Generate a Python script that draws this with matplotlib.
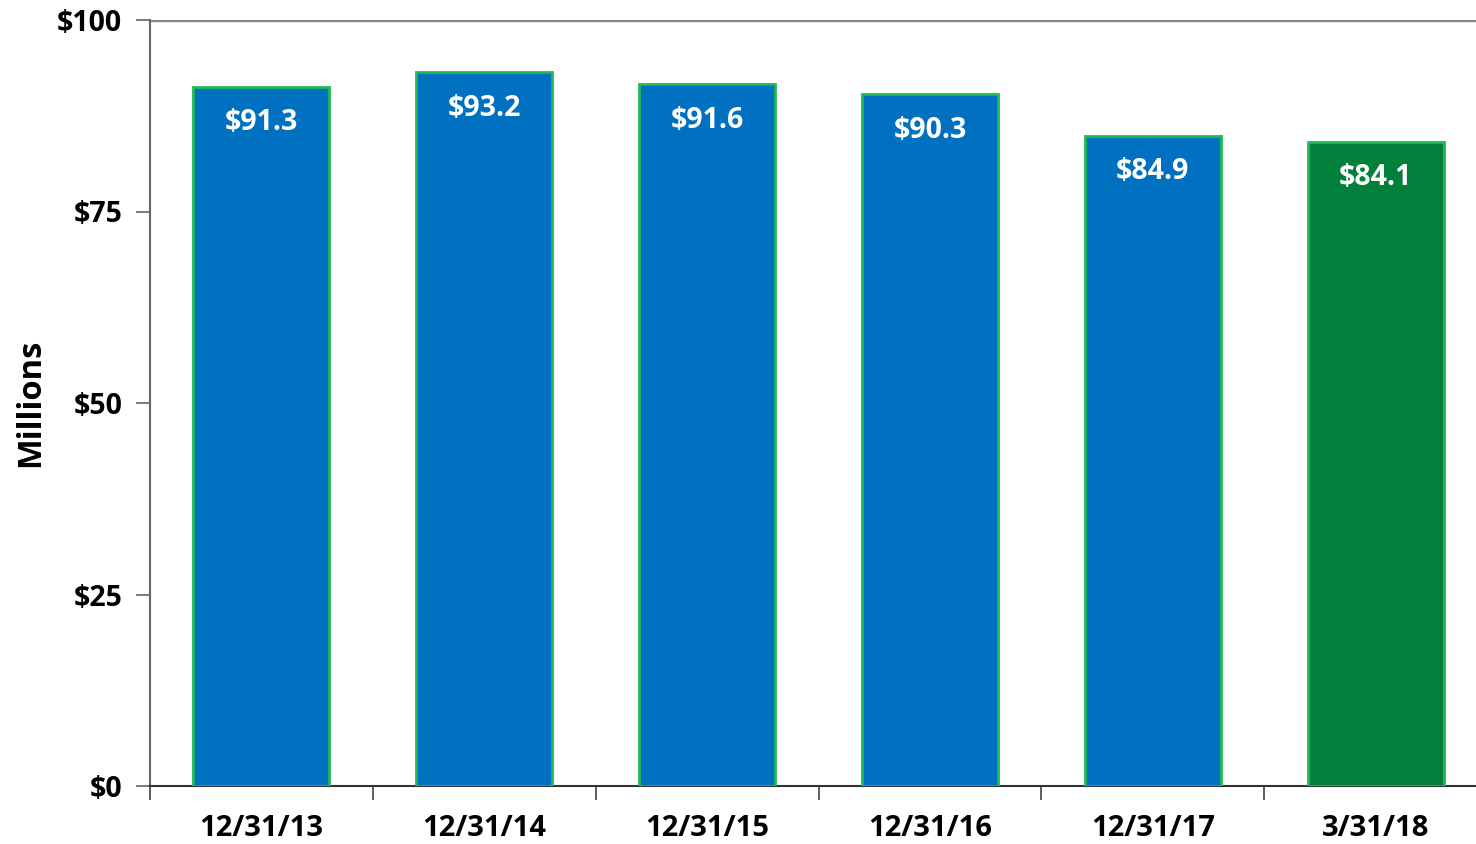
import numpy as np
import matplotlib.pyplot as plt

# data
periods = ['12/31/13', '12/31/14', '12/31/15', '12/31/16', '12/31/17', '3/31/18']
values = [91.3, 93.2, 91.6, 90.3, 84.9, 84.1]
bar_colors = ['#0070C0', '#0070C0', '#0070C0', '#0070C0', '#0070C0', '#00803A']
y_ticks = [0, 25, 50, 75, 100]

plt.rcParams['font.family'] = ['Open Sans', 'DejaVu Sans']

fig = plt.figure(figsize=(14.76, 8.44), dpi=100)
ax = fig.add_axes([150 / 1476, 58 / 844, 1 - 150 / 1476, 766 / 844])

x = np.arange(len(periods))
ax.bar(x, values, width=0.61, color=bar_colors, edgecolor='#1DBA55', linewidth=2, zorder=3)

for xi, v in zip(x, values):
    ax.text(xi, v - 4.7, '$%.1f' % v, ha='center', va='center', color='white',
            fontsize=20.5, fontweight='bold', zorder=4)

ax.set_ylim(0, 100)
ax.set_xlim(-0.5, 5.45)
ax.set_yticks(y_ticks)
ax.set_yticklabels(['$%d' % t for t in y_ticks], fontsize=20.5, fontweight='bold')
# only the top line is drawn across the plot
ax.axhline(y_ticks[-1], color='#888888', linewidth=2.5, zorder=1)

ax.set_xticks(x)
ax.set_xticklabels(periods, fontsize=21, fontweight='bold')
ax.set_xticks(np.arange(len(periods)) - 0.5, minor=True)
ax.tick_params(axis='x', which='major', length=0, pad=20)
ax.tick_params(axis='x', which='minor', length=10, width=1.2, color='#444444')
ax.tick_params(axis='y', length=10, width=1.2, color='#666666', pad=10)

ax.set_ylabel('Millions', fontsize=23.5, fontweight='bold', labelpad=7)

for side in ['top', 'right']:
    ax.spines[side].set_visible(False)
ax.spines['left'].set_color('#666666')
ax.spines['left'].set_linewidth(1.5)
ax.spines['bottom'].set_color('#333333')
ax.spines['bottom'].set_linewidth(1.5)

fig.savefig('out.png', dpi=100)
